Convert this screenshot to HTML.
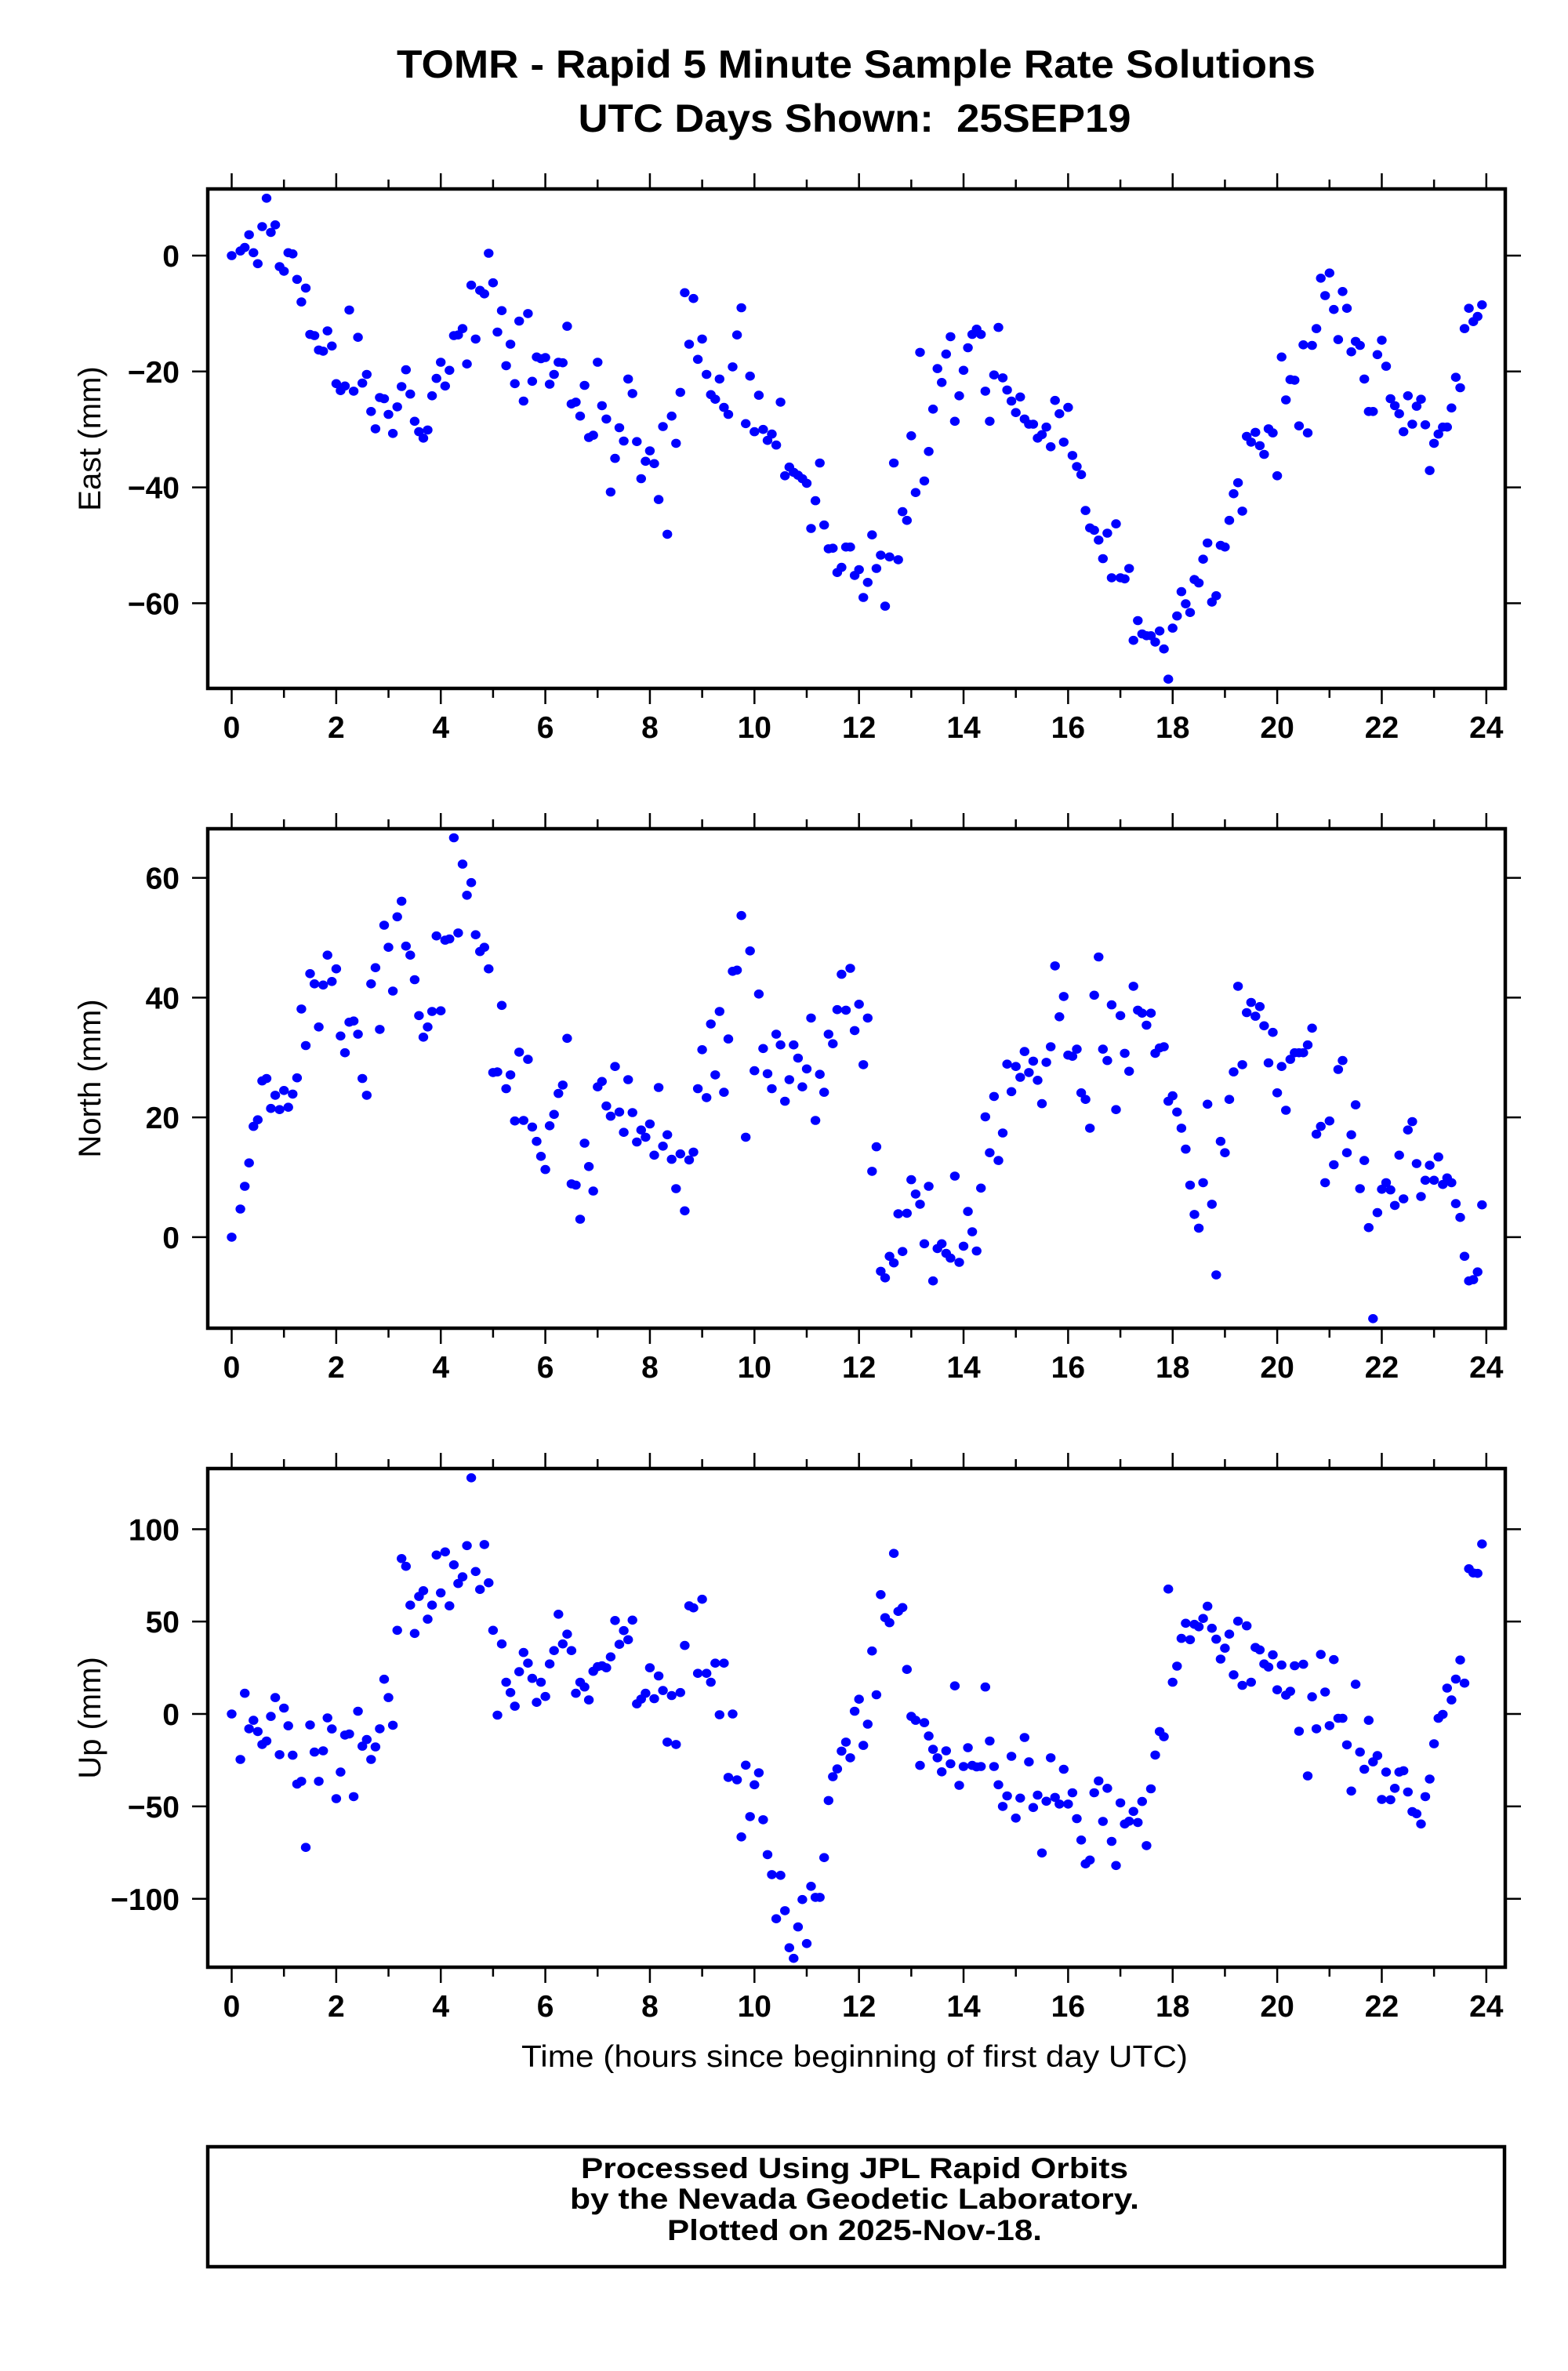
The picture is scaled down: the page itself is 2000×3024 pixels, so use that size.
<!DOCTYPE html>
<html><head><meta charset="utf-8"><title>TOMR Rapid 5 Minute Solutions</title>
<style>
html,body{margin:0;padding:0;background:#fff;}
svg{display:block;}
text{font-family:"Liberation Sans",Arial,sans-serif;fill:#000;}
</style></head>
<body>
<svg id="chart" xmlns="http://www.w3.org/2000/svg" width="2000" height="3024" viewBox="0 0 2000 3024">
<rect x="0" y="0" width="2000" height="3024" fill="#fff"/>
<text x="1092" y="99" text-anchor="middle" font-size="50" font-weight="bold" textLength="1172" lengthAdjust="spacingAndGlyphs">TOMR - Rapid 5 Minute Sample Rate Solutions</text>
<text x="1090" y="168" text-anchor="middle" font-size="50" font-weight="bold" textLength="705" lengthAdjust="spacingAndGlyphs" xml:space="preserve">UTC Days Shown:  25SEP19</text>
<g id="panels"></g>
<text x="1090" y="2636" text-anchor="middle" font-size="39" textLength="850" lengthAdjust="spacingAndGlyphs">Time (hours since beginning of first day UTC)</text>
<rect x="265" y="2738" width="1654" height="153" fill="none" stroke="#000" stroke-width="4.5"/>
<text x="1090" y="2778" text-anchor="middle" font-size="37" font-weight="bold" textLength="698" lengthAdjust="spacingAndGlyphs">Processed Using JPL Rapid Orbits</text>
<text x="1090" y="2817" text-anchor="middle" font-size="37" font-weight="bold" textLength="726" lengthAdjust="spacingAndGlyphs">by the Nevada Geodetic Laboratory.</text>
<text x="1090" y="2857" text-anchor="middle" font-size="37" font-weight="bold" textLength="478" lengthAdjust="spacingAndGlyphs">Plotted on 2025-Nov-18.</text>
</svg>
<script>
// 5-minute epochs; index i -> time i/12 hours. null = no solution.
const sampleMinutes = 5;
const eastValues = [0,null,0.8,1.4,3.6,0.5,-1.4,5,9.9,4,5.3,-1.9,-2.7,0.5,0.3,-4.1,-8,-5.6,-13.6,-13.8,-16.3,-16.5,-13,-15.6,-22.1,
-23.3,-22.5,-9.4,-23.4,-14.1,-22,-20.5,-26.9,-29.9,-24.5,-24.7,-27.4,-30.7,-26.1,-22.6,-19.7,-23.9,-28.6,-30.4,-31.5,-30.1,-24.2,-21.2,-18.4,-22.5,-19.8,-13.8,-13.7,-12.6,-18.7,-5.1,-14.4,-6,-6.6,0.4,-4.7,-13.2,-9.5,-19,-15.3,-22.1,-11.3,-25.1,-10,-21.7,-17.5,-17.8,-17.6,-22.2,-20.5,-18.4,-18.5,-12.2,-25.6,-25.3,-27.7,-22.4,-31.4,-31,-18.4,-25.9,-28.2,-40.8,-35,-29.7,-32,-21.3,-23.8,-32.1,-38.5,-35.5,-33.7,-35.9,-42.1,-29.5,-48.1,-27.7,-32.4,-23.6,-6.4,-15.3,-7.4,-17.9,-14.4,-20.5,
-24,-24.8,-21.3,-26.2,-27.4,-19.2,-13.7,-9,-29,-20.8,-30.4,-24.1,-30,-31.9,-30.8,-32.7,-25.3,-38,-36.5,-37.4,-37.9,-38.5,-39.3,-47.1,-42.3,-35.8,-46.5,-50.6,-50.5,-54.7,-53.8,-50.3,-50.3,-55.2,-54.2,-59,-56.4,-48.2,-54,-51.7,-60.5,-52,-35.8,-52.5,-44.2,-45.7,-31.1,-40.9,-16.7,-38.9,-33.8,-26.5,-19.5,-21.9,-17,-14,-28.6,-24.2,-19.8,-15.9,-13.6,-12.7,-13.6,-23.4,-28.6,-20.6,-12.4,-21.1,-23.2,-25.1,-27.1,-24.4,-28.2,-29.1,-29.1,-31.5,-30.9,-29.6,-33,-25,-27.3,-32.2,-26.2,-34.5,-36.4,-37.8,-44,-47,-47.4,-49.1,-52.3,-47.9,-55.6,-46.3,-55.6,-55.8,-54,-66.4,-63,-65.3,-65.6,-65.6,-66.7,-64.8,-67.9,-73.1,-64.3,-62.2,-58,-60.1,-61.6,-55.9,-56.5,-52.4,-49.6,-59.8,-58.7,-50,-50.3,-45.7,-41.1,-39.2,
-44.1,-31.2,-32.2,-30.5,-32.8,-34.3,-29.9,-30.6,-38,-17.5,-24.9,-21.4,-21.5,-29.4,-15.4,-30.6,-15.5,-12.6,-3.9,-6.9,-3,-9.3,-14.5,-6.2,-9.1,-16.6,-14.8,-15.5,-21.3,-26.9,-26.9,-17.1,-14.6,-19.1,-24.7,-25.9,-27.3,-30.4,-24.2,-29.1,-26,-24.8,-29.2,-37.1,-32.4,-30.8,-29.6,-29.6,-26.3,-21,-22.8,-12.6,-9.1,-11.4,-10.5,-8.5];
const northValues = [0,null,4.7,8.5,12.4,18.5,19.6,26.1,26.5,21.5,23.7,21.3,24.5,21.7,23.9,26.6,38.1,32,44,42.3,35.1,42.1,47.1,42.7,44.8,
33.6,30.8,35.9,36.1,33.9,26.5,23.7,42.3,45,34.7,52.1,48.4,41.1,53.5,56.1,48.6,47.1,43,37,33.4,35.1,37.7,50.3,37.8,49.6,49.8,66.7,50.8,62.3,57.1,59.2,50.5,47.7,48.4,44.8,27.5,27.6,38.7,24.8,27.1,19.4,30.9,19.5,29.7,18.4,16,13.5,11.3,18.6,20.5,24,25.4,33.2,8.9,8.7,3,15.7,11.8,7.7,25.1,26,21.9,20.2,28.5,20.9,17.5,26.3,20.8,15.9,17.9,16.7,18.9,13.7,25,15.2,17.1,13,8.1,13.9,4.4,12.9,14.2,24.8,31.3,23.3,
35.6,27.1,37.7,24.2,33.1,44.4,44.6,53.7,16.7,47.8,27.8,40.6,31.5,27.3,24.8,33.9,32.1,22.7,26.3,32.1,29.9,25.1,28.1,36.6,19.5,27.2,24.2,33.9,32.3,38,43.9,37.9,44.9,34.5,38.9,28.8,36.6,11,15.1,-5.7,-6.8,-3.2,-4.3,3.9,-2.4,4,9.6,7.2,5.5,-1.1,8.5,-7.3,-1.9,-1.1,-2.7,-3.5,10.2,-4.2,-1.5,4.3,0.9,-2.3,8.2,20.1,14.1,23.5,12.8,17.4,28.9,24.3,28.5,26.7,31,27.5,29.4,26.2,22.3,29.2,31.8,45.3,36.8,40.2,30.4,30.2,31.4,24.1,23,18.2,40.4,46.8,31.4,29.5,38.8,21.3,37,30.7,27.7,41.9,37.9,37.4,35.4,37.4,30.7,31.6,31.8,22.7,23.6,20.9,18.2,14.7,8.7,3.8,1.5,9.1,22.2,5.5,-6.3,16,14.1,23,27.6,
41.9,28.8,37.5,39.2,36.9,38.5,35.3,29.1,34.2,24.1,28.5,21.2,29.7,30.8,30.8,30.8,32.1,34.9,17.2,18.5,9.1,19.4,12.1,28,29.5,14.1,17.1,22.1,8.1,12.8,1.6,-13.6,4.1,8,9.1,7.9,5.3,13.7,6.4,17.9,19.3,12.3,6.8,9.5,12,9.5,13.4,8.8,9.9,9.1,5.6,3.3,-3.2,-7.3,-7.1,-5.8,5.4];
const upValues = [0,null,-24.6,11.2,-8,-3.4,-9.5,-16.5,-14.6,-1.3,8.9,-22,3.2,-6.4,-22.3,-37.9,-36.4,-72.2,-5.9,-20.6,-36.4,-19.9,-2.1,-8.1,-45.8,
-31.4,-11.4,-10.8,-44.7,1.5,-17.4,-13.8,-24.6,-17.8,-8,18.8,8.9,-6.1,45.3,84.1,79.9,58.9,43.6,63.6,66.7,51.3,58.9,86,65.5,87.7,58.5,80.7,70.6,74.2,91.1,127.8,77.1,67.4,91.7,71,45.3,-0.6,37.9,17.2,11.6,4.2,22.9,33.3,27.5,19.3,6.3,17.2,9.5,27.1,34.3,54,37.9,43.2,34.3,11.2,17.2,14.6,7.6,23.1,25.6,26.1,25,30.9,50.6,37.7,45.1,40.2,50.8,5.5,8.1,11.2,25,8.3,20.6,12.7,-15.2,10,-16.5,11.6,37.1,58.5,57.4,22,62.1,
22,17.2,27.5,-0.4,27.5,-34.3,0,-35.6,-66.5,-27.7,-55.5,-38.3,-31.8,-57.2,-76.1,-86.9,-110.8,-87.3,-106.4,-126.5,-132.2,-115.2,-100.4,-124.2,-93.2,-99.2,-99.2,-77.7,-46.8,-33.9,-29.7,-20.1,-15.2,-23.7,1.5,8,-17,-5.5,34.1,10.4,64.6,52.1,49.4,86.9,55.5,57.6,24.1,-1.3,-3.4,-27.8,-4.7,-11.9,-19.1,-23.7,-31.3,-19.9,-26.9,15.2,-38.6,-28.4,-18.2,-27.8,-28.6,-28.4,14.6,-14.6,-28.4,-38.3,-50,-44.3,-22.9,-56.3,-45.5,-12.7,-25.9,-50.6,-43.9,-75.2,-47.2,-23.7,-45.1,-48.7,-29.9,-48.7,-42.6,-56.6,-68.2,-81.1,-79,-42.6,-36.2,-58.1,-40.2,-68.9,-82,-48.1,-59.5,-58,-52.7,-58.7,-47.3,-71.2,-40.5,-22.2,-9.5,-12.3,67.6,17.2,25.9,40.9,49.1,40.2,48.5,47.2,51.7,58.3,46.4,40.5,29.7,35.6,43.2,21.2,50.2,
15.5,47.7,17.2,36,34.7,27.1,25.4,32,13.1,26.5,10.2,12.3,26.1,-9.3,26.9,-33.5,9.3,-8,32.2,11.9,-6.3,29.4,-2.3,-2.3,-16.7,-41.7,16.1,-20.6,-29.9,-3.4,-25.9,-22.5,-46.2,-31.4,-46.4,-40.2,-31.4,-30.7,-42.2,-52.8,-54,-59.5,-44.7,-35.2,-16.1,-2.3,-0.2,14,7.6,18.9,29.2,16.7,78.6,76.3,76.1,92];
const xTickValues = [0,2,4,6,8,10,12,14,16,18,20,22,24];
const eastTicks = [-60,-40,-20,0];
const northTicks = [0,20,40,60];
const upTicks = [-100,-50,0,50,100];

const NS = 'http://www.w3.org/2000/svg';
const root = document.getElementById('panels');
const FL = 265, FR = 1920, X0 = 295.5, PXH = 66.68;
function xs(h){ return X0 + h*PXH; }
function mk(tag, attrs, parent){ const e=document.createElementNS(NS,tag); for(const k in attrs) e.setAttribute(k, attrs[k]); parent.appendChild(e); return e; }
function fmt(v){ return v<0 ? '\u2212'+Math.abs(v) : String(v); }

function panel(key, title, values, ticks, top, bottom, yMax, yMin){
  const g = mk('g', {}, root);
  
  
  const ys = v => top + (yMax - v)/(yMax - yMin)*(bottom - top);
  const dg = mk('g', {fill:'#0000ff'}, g);
  
  
  values.forEach((v,i)=>{
    if(v===null) return;
    const t = i*sampleMinutes/60;
    const c = mk('ellipse', {cx:xs(t).toFixed(1), cy:ys(v).toFixed(1), rx:6.2, ry:5.8}, dg);
    
    
  });
  for(let h=0; h<=24; h++){
    const major = h%2===0, L = major?18:10;
    mk('line', {x1:xs(h), x2:xs(h), y1:top-2, y2:top-2-L, stroke:'#000','stroke-width':2.5}, g);
    mk('line', {x1:xs(h), x2:xs(h), y1:bottom+2, y2:bottom+2+L, stroke:'#000','stroke-width':2.5}, g);
  }
  xTickValues.forEach(h=>{
    const t = mk('text', {x:xs(h), y:bottom+63, 'text-anchor':'middle','font-size':39,'font-weight':'bold'}, g);
    
    
    t.textContent = String(h);
  });
  ticks.forEach(v=>{
    const y = ys(v);
    mk('line', {x1:FL-2, x2:FL-20, y1:y, y2:y, stroke:'#000','stroke-width':2.5}, g);
    mk('line', {x1:FR+2, x2:FR+20, y1:y, y2:y, stroke:'#000','stroke-width':2.5}, g);
    const t = mk('text', {x:229, y:y+14, 'text-anchor':'end','font-size':39,'font-weight':'bold'}, g);
    
    
    t.textContent = fmt(v);
  });
  const cy = (top+bottom)/2;
  const yt = mk('text', {x:0, y:0, transform:`translate(128,${cy}) rotate(-90)`, 'text-anchor':'middle','font-size':40}, g);
  
  
  yt.textContent = title;
  const fr = mk('rect', {x:FL, y:top, width:FR-FL, height:bottom-top, fill:'none', stroke:'#000','stroke-width':4.5}, g);
  
  
}
panel('east', 'East (mm)', eastValues, eastTicks, 241, 878, 11.5, -74.7);
panel('north', 'North (mm)', northValues, northTicks, 1057, 1694, 68.2, -15.2);
panel('up', 'Up (mm)', upValues, upTicks, 1873, 2509, 132.8, -137.0);
</script>
</body></html>
